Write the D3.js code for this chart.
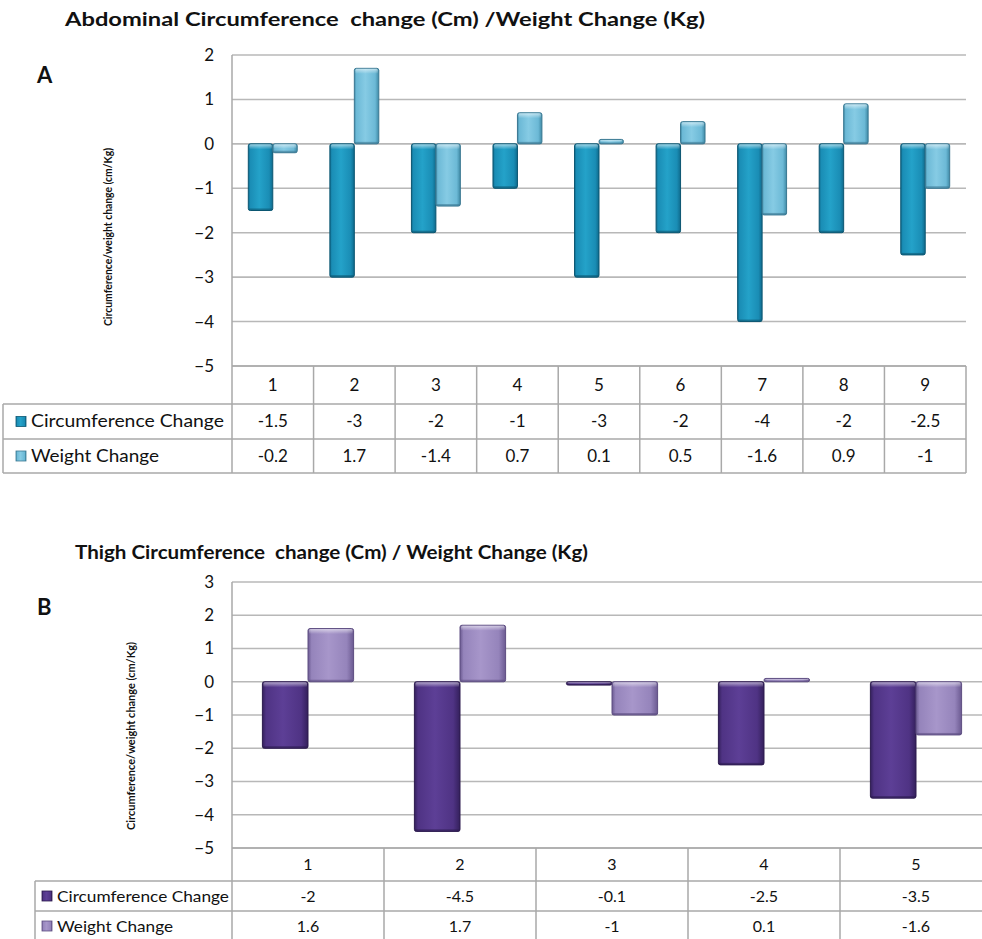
<!DOCTYPE html>
<html>
<head>
<meta charset="utf-8">
<script src="https://cdn.jsdelivr.net/npm/d3@7"></script>
<style>
  html, body { margin: 0; padding: 0; background: #fff; }
  svg { display: block; }
  text { font-family: Lato, "Open Sans", "Liberation Sans", sans-serif; fill: #111; white-space: pre; }
</style>
</head>
<body>
<svg id="chart" width="982" height="939"></svg>
<script>
// ---- data ----
const seriesNames = ["Circumference Change", "Weight Change"];

const abdCategories = ["1", "2", "3", "4", "5", "6", "7", "8", "9"];
const abdCircumference = [-1.5, -3, -2, -1, -3, -2, -4, -2, -2.5];
const abdWeight = [-0.2, 1.7, -1.4, 0.7, 0.1, 0.5, -1.6, 0.9, -1];
const abdTicks = [2, 1, 0, -1, -2, -3, -4, -5];

const thighCategories = ["1", "2", "3", "4", "5"];
const thighCircumference = [-2, -4.5, -0.1, -2.5, -3.5];
const thighWeight = [1.6, 1.7, -1, 0.1, -1.6];
const thighTicks = [3, 2, 1, 0, -1, -2, -3, -4, -5];

const abdTitle = "Abdominal Circumference  change (Cm) /Weight Change (Kg)";
const thighTitle = "Thigh Circumference  change (Cm) / Weight Change (Kg)";
const yLabel = "Circumference/weight change (cm/Kg)";

const svg = d3.select("#chart");
const defs = svg.append("defs");

// horizontal body gradient for each bar colour
function barGradient(id, edge, mid, light) {
  const g = defs.append("linearGradient").attr("id", id)
    .attr("x1", "0").attr("x2", "1").attr("y1", "0").attr("y2", "0");
  g.append("stop").attr("offset", "0").attr("stop-color", edge);
  g.append("stop").attr("offset", "0.08").attr("stop-color", mid);
  g.append("stop").attr("offset", "0.45").attr("stop-color", light);
  g.append("stop").attr("offset", "0.85").attr("stop-color", mid);
  g.append("stop").attr("offset", "1").attr("stop-color", edge);
}
barGradient("gA0", "#0f6a8c", "#1a8db5", "#24a2c9");
barGradient("gA1", "#3f8aa6", "#6cb9d6", "#86cbe4");
barGradient("gB0", "#34205c", "#4f3384", "#5d3f96");
barGradient("gB1", "#6b5a91", "#9584bb", "#a796ca");

const cap = defs.append("linearGradient").attr("id", "cap")
  .attr("x1", "0").attr("x2", "0").attr("y1", "0").attr("y2", "1");
cap.append("stop").attr("offset", "0").attr("stop-color", "#fff").attr("stop-opacity", 0.55);
cap.append("stop").attr("offset", "1").attr("stop-color", "#fff").attr("stop-opacity", 0);

function drawPanel(cfg) {
  const g = svg.append("g");
  const y = d3.scaleLinear().domain([cfg.ticks[cfg.ticks.length - 1], cfg.ticks[0]])
    .range([cfg.plotBottom, cfg.plotTop]);
  const x = d3.scaleBand().domain(cfg.categories).range([cfg.left, cfg.right]).padding(0);
  const bw = x.bandwidth();
  const inner = d3.scaleBand().domain(seriesNames)
    .range([bw * 0.2, bw * 0.8]).padding(0);

  // title and panel letter
  g.append("text").attr("x", cfg.titleX).attr("y", cfg.titleY)
    .attr("font-weight", "bold").attr("font-size", 18)
    .attr("textLength", cfg.titleLen).attr("lengthAdjust", "spacingAndGlyphs")
    .text(cfg.title);
  g.append("text").attr("x", 37).attr("y", cfg.letterY)
    .attr("font-family", "Liberation Sans, Arial, sans-serif")
    .attr("font-weight", "bold").attr("font-size", 22).text(cfg.letter);

  // y axis label (condensed)
  g.append("text")
    .attr("transform", `translate(${cfg.yLabelX},${cfg.yLabelY}) rotate(-90)`)
    .attr("text-anchor", "middle").attr("font-size", 12).attr("font-weight", "bold")
    .attr("font-family", "Liberation Sans Narrow, Liberation Sans, sans-serif")
    .attr("fill", "#222")
    .attr("textLength", cfg.yLabelLen).attr("lengthAdjust", "spacingAndGlyphs")
    .text(yLabel);

  // gridlines and tick labels
  const yAxis = d3.axisLeft(y).tickValues(cfg.ticks).tickSize(0).tickPadding(0)
    .tickFormat(d3.format("d"));
  const ax = g.append("g").attr("transform", `translate(${cfg.tickX},0)`).call(yAxis);
  ax.select(".domain").remove();
  ax.selectAll("text").attr("font-size", 17).attr("fill", "#111")
    .attr("font-family", "Lato, sans-serif");

  g.append("g").selectAll("line").data(cfg.ticks).join("line")
    .attr("x1", cfg.left).attr("x2", cfg.gridRight)
    .attr("y1", d => y(d)).attr("y2", d => y(d))
    .attr("stroke", "#b8b8b8").attr("stroke-width", 1.6);

  // bars
  const series = [cfg.circ, cfg.weight];
  series.forEach((vals, si) => {
    const bars = g.append("g");
    vals.forEach((v, i) => {
      const bx = x(cfg.categories[i]) + inner(seriesNames[si]);
      const bwid = inner.bandwidth();
      const y0 = Math.min(y(0), y(v));
      const h = Math.abs(y(v) - y(0));
      bars.append("rect").attr("x", bx).attr("y", y0).attr("width", bwid).attr("height", h)
        .attr("rx", 2).attr("fill", `url(#${cfg.gradPrefix}${si})`)
        .attr("stroke", cfg.strokes[si]).attr("stroke-width", 1);
      const capH = Math.min(5, h * 0.5);
      bars.append("rect").attr("x", bx + 1).attr("y", y0 + 0.5).attr("width", bwid - 2)
        .attr("height", capH).attr("rx", 1.5).attr("fill", "url(#cap)");
      bars.append("rect").attr("x", bx + 0.5).attr("y", y0 + h - Math.min(2, h * 0.3))
        .attr("width", bwid - 1).attr("height", Math.min(2, h * 0.3))
        .attr("fill", cfg.strokes[si]).attr("opacity", 0.6);
    });
  });

  // data table under the plot
  const lineC = "#a9a9a9";
  const t = g.append("g").attr("stroke", lineC).attr("stroke-width", 1.5);
  const [r0, r1, r2, r3] = cfg.rows;
  t.append("line").attr("x1", cfg.left).attr("x2", cfg.right).attr("y1", r0).attr("y2", r0);
  [r1, r2, r3].forEach(ry => {
    t.append("line").attr("x1", cfg.tableLeft).attr("x2", cfg.right).attr("y1", ry).attr("y2", ry);
  });
  t.append("line").attr("x1", cfg.left).attr("x2", cfg.left).attr("y1", cfg.plotTop).attr("y2", r3);
  t.append("line").attr("x1", cfg.tableLeft).attr("x2", cfg.tableLeft).attr("y1", r1).attr("y2", r3);
  cfg.categories.forEach(c => {
    const xr = x(c) + bw;
    t.append("line").attr("x1", xr).attr("x2", xr).attr("y1", r0).attr("y2", r3);
  });

  const fmt = d => String(d);
  g.append("g").selectAll("text").data(cfg.categories).join("text")
    .attr("x", d => x(d) + bw / 2).attr("y", (r0 + r1) / 2).attr("dy", "0.35em")
    .attr("text-anchor", "middle").attr("font-size", cfg.cellFont).text(d => d);
  [cfg.circ, cfg.weight].forEach((vals, si) => {
    const ry = si === 0 ? (r1 + r2) / 2 : (r2 + r3) / 2;
    g.append("g").selectAll("text").data(vals).join("text")
      .attr("x", (d, i) => x(cfg.categories[i]) + bw / 2).attr("y", ry).attr("dy", "0.35em")
      .attr("text-anchor", "middle").attr("font-size", cfg.cellFont).text(fmt);
    const kx = cfg.tableLeft + cfg.keyOffset;
    g.append("rect").attr("x", kx).attr("y", ry - 5).attr("width", 10).attr("height", 10)
      .attr("fill", `url(#${cfg.gradPrefix}${si})`).attr("stroke", cfg.strokes[si]).attr("stroke-width", 0.8);
    g.append("text").attr("x", kx + 15).attr("y", ry).attr("dy", "0.35em")
      .attr("font-size", cfg.legendFont)
      .attr("textLength", cfg.legendLens[si]).attr("lengthAdjust", "spacingAndGlyphs")
      .text(seriesNames[si]);
  });
}

drawPanel({
  title: abdTitle, titleX: 65, titleY: 26, titleLen: 640,
  letter: "A", letterY: 83,
  yLabelX: 112, yLabelY: 237, yLabelLen: 178,
  categories: abdCategories, circ: abdCircumference, weight: abdWeight, ticks: abdTicks,
  left: 232, right: 966, gridRight: 966, plotTop: 55, plotBottom: 366, tickX: 214,
  rows: [366, 404, 439, 473], tableLeft: 3, keyOffset: 13,
  cellFont: 17, legendFont: 17, legendLens: [193, 128],
  gradPrefix: "gA", strokes: ["#0b5672", "#3a7892"]
});

drawPanel({
  title: thighTitle, titleX: 75, titleY: 559, titleLen: 513,
  letter: "B", letterY: 615,
  yLabelX: 135, yLabelY: 736, yLabelLen: 188,
  categories: thighCategories, circ: thighCircumference, weight: thighWeight, ticks: thighTicks,
  left: 232, right: 992, gridRight: 992, plotTop: 582, plotBottom: 848, tickX: 214,
  rows: [848, 881, 911, 941], tableLeft: 35, keyOffset: 7,
  cellFont: 16, legendFont: 16, legendLens: [172, 116],
  gradPrefix: "gB", strokes: ["#2c1a4e", "#5e4e82"]
});
</script>
</body>
</html>
